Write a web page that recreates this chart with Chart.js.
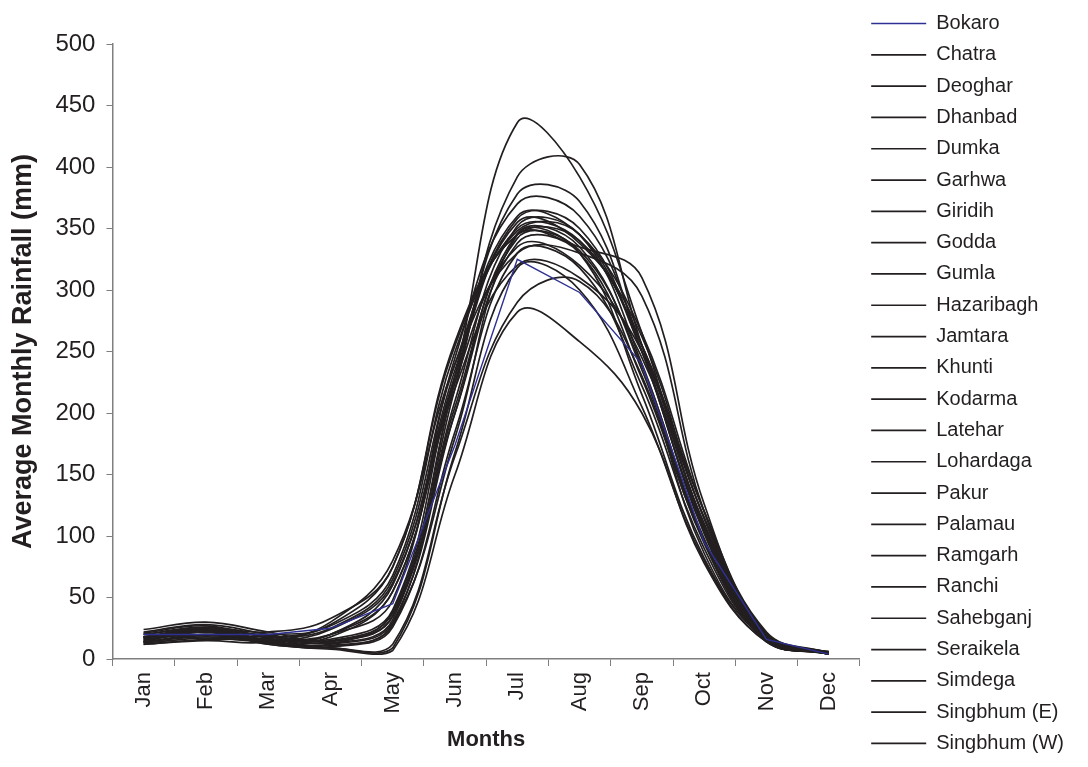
<!DOCTYPE html>
<html lang="en">
<head>
    <meta charset="UTF-8">
    <title>Average Monthly Rainfall - Jharkhand districts</title>
    <script src="https://cdn.jsdelivr.net/npm/chart.js@4"></script>
    <style>
        html, body { margin: 0; padding: 0; background: #ffffff; }
        #wrap { width: 1088px; height: 767px; }
    </style>
</head>
<body>
    <div id="wrap"><canvas id="rainChart"></canvas></div>
    <script>
        // Months on the x axis
        const months = ['Jan', 'Feb', 'Mar', 'Apr', 'May', 'Jun', 'Jul', 'Aug', 'Sep', 'Oct', 'Nov', 'Dec'];

        // Average monthly rainfall (mm)
        const bokaro     = [20, 20, 20, 25, 45, 174, 325, 298, 240, 95, 16, 4];
        const chatra     = [18, 25, 15, 10, 28, 180, 345, 330, 215, 82, 16, 5];
        const deoghar    = [14, 20, 16, 18, 55, 220, 320, 310, 250, 108, 19, 5];
        const dhanbad    = [16, 22, 18, 25, 65, 240, 350, 340, 255, 115, 18, 4];
        const dumka      = [14, 18, 15, 20, 60, 235, 360, 345, 265, 120, 19, 4];
        const garhwa     = [18, 22, 12, 8, 7, 150, 282, 258, 200, 78, 14, 6];
        const giridih    = [16, 20, 14, 12, 38, 200, 338, 330, 228, 96, 16, 4];
        const godda      = [13, 17, 15, 24, 62, 230, 355, 338, 262, 114, 19, 4];
        const gumla      = [22, 28, 20, 13, 32, 220, 392, 402, 255, 104, 16, 4];
        const hazaribagh = [18, 24, 15, 12, 30, 200, 346, 335, 235, 94, 16, 5];
        const jamtara    = [14, 19, 15, 20, 55, 225, 335, 320, 245, 110, 18, 4];
        const khunti     = [20, 26, 18, 14, 35, 225, 378, 372, 250, 106, 17, 4];
        const kodarma    = [17, 22, 13, 10, 26, 185, 330, 318, 222, 90, 15, 5];
        const latehar    = [17, 25, 14, 9, 12, 165, 290, 307, 230, 86, 15, 5];
        const lohardaga  = [21, 27, 17, 11, 28, 210, 352, 345, 240, 96, 15, 5];
        const pakur      = [12, 16, 17, 28, 75, 255, 345, 335, 310, 126, 20, 4];
        const palamau    = [18, 23, 12, 9, 9, 168, 318, 300, 205, 80, 14, 6];
        const ramgarh    = [18, 23, 16, 14, 35, 205, 342, 332, 238, 98, 16, 5];
        const ranchi     = [20, 25, 19, 16, 40, 230, 358, 350, 250, 102, 16, 4];
        const sahebganj  = [12, 15, 14, 30, 80, 240, 330, 330, 295, 120, 18, 4];
        const seraikela  = [15, 23, 20, 27, 68, 250, 348, 345, 250, 110, 21, 5];
        const simdega    = [24, 30, 22, 15, 38, 230, 436, 392, 265, 108, 17, 4];
        const singbhumE  = [14, 25, 22, 33, 75, 258, 345, 340, 255, 120, 22, 5];
        const singbhumW  = [15, 22, 16, 20, 48, 245, 370, 360, 255, 115, 20, 5];

        const districts = ['Bokaro', 'Chatra', 'Deoghar', 'Dhanbad', 'Dumka', 'Garhwa', 'Giridih', 'Godda',
            'Gumla', 'Hazaribagh', 'Jamtara', 'Khunti', 'Kodarma', 'Latehar', 'Lohardaga', 'Pakur',
            'Palamau', 'Ramgarh', 'Ranchi', 'Sahebganj', 'Seraikela', 'Simdega', 'Singbhum (E)', 'Singbhum (W)'];
        const series = [bokaro, chatra, deoghar, dhanbad, dumka, garhwa, giridih, godda,
            gumla, hazaribagh, jamtara, khunti, kodarma, latehar, lohardaga, pakur,
            palamau, ramgarh, ranchi, sahebganj, seraikela, simdega, singbhumE, singbhumW];

        const ink = '#231f20';
        const axisGrey = '#7f7f7f';

        const datasets = districts.map((name, i) => {
            const isBokaro = i === 0;
            const colour = isBokaro ? '#2e3192' : ink;
            return {
                label: name,
                data: series[i],
                borderColor: colour,
                backgroundColor: colour,
                borderWidth: isBokaro ? 1.4 : 1.7,
                pointRadius: 0,
                fill: false,
                tension: isBokaro ? 0 : 0.4
            };
        });

        Chart.defaults.font.family = '"Liberation Sans", Arial, sans-serif';
        Chart.defaults.color = ink;

        new Chart(document.getElementById('rainChart'), {
            type: 'line',
            data: { labels: months, datasets: datasets },
            options: {
                responsive: true,
                maintainAspectRatio: false,
                animation: false,
                layout: { padding: { top: 0, right: 14, bottom: 0, left: 0 } },
                plugins: {
                    tooltip: { enabled: false },
                    legend: {
                        position: 'right',
                        labels: {
                            boxWidth: 55,
                            boxHeight: 0,
                            padding: 11.3,
                            color: ink,
                            font: { size: 20 }
                        }
                    }
                },
                scales: {
                    x: {
                        offset: true,
                        grid: { offset: true, drawOnChartArea: false, drawTicks: true, tickLength: 7, color: axisGrey },
                        border: { color: axisGrey, width: 1.5 },
                        ticks: { maxRotation: 90, minRotation: 90, padding: 6, color: ink, font: { size: 22 } },
                        title: { display: true, text: 'Months', color: ink, font: { size: 22, weight: 'bold' }, padding: { top: 7, bottom: 14 } }
                    },
                    y: {
                        min: 0,
                        max: 500,
                        ticks: { stepSize: 50, padding: 11, color: ink, font: { size: 24 } },
                        grid: { drawOnChartArea: false, drawTicks: true, tickLength: 6, color: axisGrey },
                        border: { color: axisGrey, width: 1.5 },
                        title: { display: true, text: 'Average Monthly Rainfall (mm)', color: ink, font: { size: 27, weight: 'bold' }, padding: { top: 7, bottom: 5 } }
                    },
                    // empty axis that only keeps room above the plot
                    topSpace: {
                        type: 'category',
                        position: 'top',
                        grid: { display: false },
                        border: { display: false },
                        ticks: { display: false },
                        afterFit: (scale) => { scale.height = 44; }
                    }
                }
            }
        });
    </script>
</body>
</html>
